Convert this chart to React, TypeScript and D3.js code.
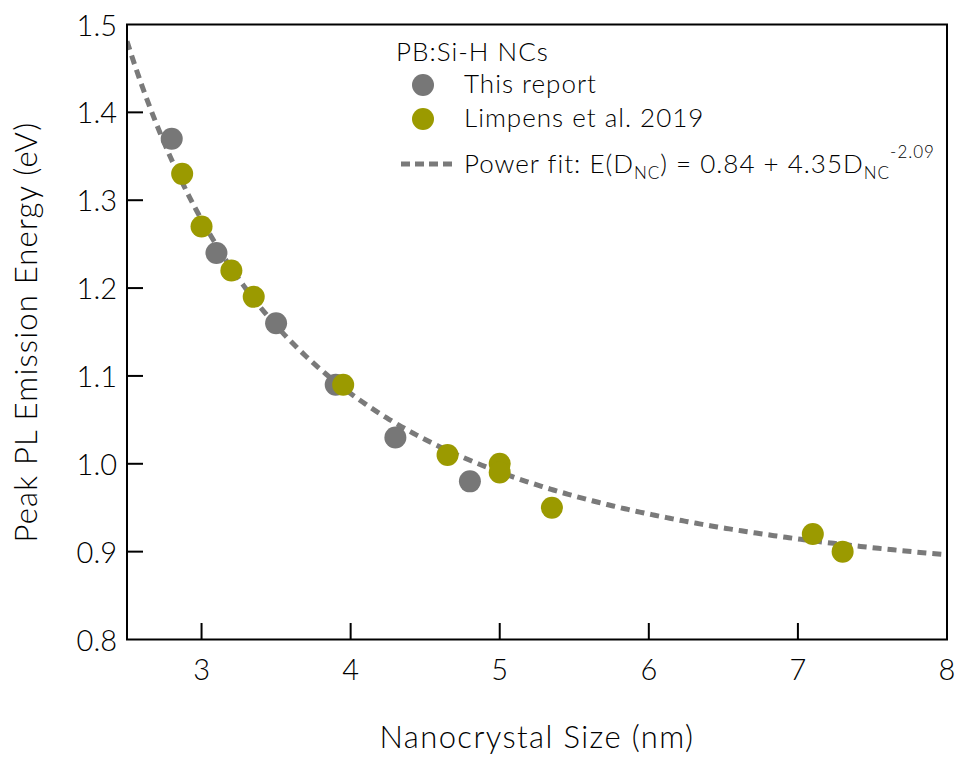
import React, { useEffect, useRef } from "react";
import * as d3 from "d3";

const reportSizes = [2.8, 3.1, 3.5, 3.9, 4.3, 4.8];
const reportEnergies = [1.37, 1.24, 1.16, 1.09, 1.03, 0.98];

const limpensSizes = [2.87, 3.0, 3.2, 3.35, 3.95, 4.65, 5.0, 5.0, 5.35, 7.1, 7.3];
const limpensEnergies = [1.33, 1.27, 1.22, 1.19, 1.09, 1.01, 1.0, 0.99, 0.95, 0.92, 0.9];

// Power fit parameters from legend: E = a + b * D^c
const fitParams = [0.84, 4.35, -2.09];

const xTicks = [3, 4, 5, 6, 7, 8];
const yTicks = [0.8, 0.9, 1.0, 1.1, 1.2, 1.3, 1.4, 1.5];

const W = 956;
const H = 757;
const FONT = "Lato, 'DejaVu Sans', sans-serif";
const WEIGHT = 300;

export default function App() {
  const ref = useRef<SVGSVGElement>(null);

  useEffect(() => {
    const svg = d3.select(ref.current);
    svg.selectAll("*").remove();

    const x = d3.scaleLinear().domain([2.5, 8]).range([127, 947]);
    const y = d3.scaleLinear().domain([0.8, 1.5]).range([639.5, 24.5]);

    const clipId = "plotclip";
    svg.append("defs").append("clipPath").attr("id", clipId)
      .append("rect").attr("x", 127).attr("y", 24.5).attr("width", 820).attr("height", 615);

    const [a, b, c] = fitParams;
    const xs = d3.range(2.5, 8.0001, 0.02);
    const line = d3.line<number>().x((d) => x(d)).y((d) => y(a + b * Math.pow(d, c)));
    svg.append("path")
      .attr("d", line(xs) as string)
      .attr("fill", "none")
      .attr("stroke", "#7a7a7a")
      .attr("stroke-width", 5)
      .attr("stroke-dasharray", "9,6")
      .attr("clip-path", `url(#${clipId})`);

    const g = svg.append("g");
    reportSizes.forEach((s, i) => {
      g.append("circle").attr("cx", x(s)).attr("cy", y(reportEnergies[i])).attr("r", 11).attr("fill", "#777777");
    });
    limpensSizes.forEach((s, i) => {
      g.append("circle").attr("cx", x(s)).attr("cy", y(limpensEnergies[i])).attr("r", 11).attr("fill", "#9b9a00");
    });

    svg.append("rect")
      .attr("x", 127).attr("y", 24.5).attr("width", 820).attr("height", 615)
      .attr("fill", "none").attr("stroke", "#000").attr("stroke-width", 2);

    const txt = (sel: any) => sel.attr("font-family", FONT).attr("font-weight", WEIGHT).attr("fill", "#000");

    xTicks.forEach((t) => {
      if (t < 8) {
        svg.append("line").attr("x1", x(t)).attr("x2", x(t)).attr("y1", 639.5).attr("y2", 623)
          .attr("stroke", "#000").attr("stroke-width", 2);
      }
      txt(svg.append("text")).attr("x", x(t)).attr("y", 680).attr("text-anchor", "middle")
        .attr("font-size", 29).text(String(t));
    });
    yTicks.forEach((t) => {
      if (t > 0.8 && t < 1.5) {
        svg.append("line").attr("x1", 127).attr("x2", 143).attr("y1", y(t)).attr("y2", y(t))
          .attr("stroke", "#000").attr("stroke-width", 2);
      }
      txt(svg.append("text")).attr("x", 117).attr("y", y(t) + 11).attr("text-anchor", "end")
        .attr("font-size", 29).text(t.toFixed(1));
    });

    txt(svg.append("text")).attr("x", 537).attr("y", 748).attr("text-anchor", "middle")
      .attr("font-size", 31).attr("letter-spacing", 1.4).text("Nanocrystal Size (nm)");
    txt(svg.append("text")).attr("transform", "translate(37,332) rotate(-90)").attr("text-anchor", "middle")
      .attr("font-size", 31).attr("letter-spacing", 1.2).text("Peak PL Emission Energy (eV)");

    const lg = txt(svg.append("g")).attr("font-size", 26).attr("letter-spacing", 1);
    lg.append("text").attr("x", 396).attr("y", 61).text("PB:Si-H NCs");
    lg.append("circle").attr("cx", 423).attr("cy", 85).attr("r", 11).attr("fill", "#777777");
    lg.append("text").attr("x", 464).attr("y", 93).text("This report");
    lg.append("circle").attr("cx", 423).attr("cy", 119).attr("r", 11).attr("fill", "#9b9a00");
    lg.append("text").attr("x", 464).attr("y", 127).text("Limpens et al. 2019");
    lg.append("line").attr("x1", 401).attr("x2", 454).attr("y1", 164).attr("y2", 164)
      .attr("stroke", "#7a7a7a").attr("stroke-width", 5).attr("stroke-dasharray", "9,5");
    const t = lg.append("text").attr("x", 464).attr("y", 173);
    t.append("tspan").text("Power fit: E(D");
    t.append("tspan").attr("font-size", 17).attr("dy", 6).text("NC");
    t.append("tspan").attr("dy", -6).text(") = 0.84 + 4.35D");
    t.append("tspan").attr("font-size", 17).attr("dy", 6).text("NC");
    t.append("tspan").attr("font-size", 17).attr("dy", -21).text("-2.09");
  }, []);

  return (
    <svg ref={ref} width={W} height={H} style={{ position: "absolute", left: 0, top: 0, background: "#fff" }} />
  );
}
